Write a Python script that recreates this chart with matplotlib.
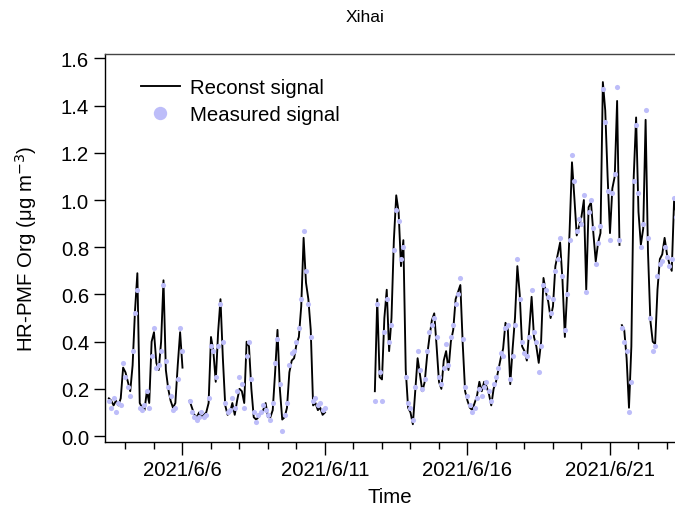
import numpy as np
import pandas as pd
import matplotlib
matplotlib.use('Agg')
import matplotlib.pyplot as plt
import matplotlib.dates as mdates
from matplotlib.ticker import MultipleLocator, FuncFormatter

plt.rcParams['font.family'] = ['Liberation Sans', 'DejaVu Sans']

##  data, 2-hourly (four continuous pieces)
seg1_start = '2021-06-03 10:00'
seg1_rec = [0.16, 0.15, 0.13, 0.15, 0.13, 0.16, 0.29, 0.27, 0.23, 0.19,
            0.30, 0.53, 0.69, 0.14, 0.12, 0.11, 0.19, 0.14, 0.40, 0.44,
            0.31, 0.28, 0.40, 0.66, 0.28, 0.20, 0.15, 0.12, 0.14, 0.30,
            0.44, 0.29]
seg1_meas = [0.15, 0.12, 0.16, 0.10, 0.14, 0.13, 0.31, 0.25, 0.21, 0.17,
             0.36, 0.52, 0.62, 0.12, 0.11, 0.13, 0.19, 0.12, 0.34, 0.46,
             0.29, 0.30, 0.36, 0.64, 0.32, 0.21, 0.17, 0.11, 0.12, 0.24,
             0.46, 0.36]

seg2_start = '2021-06-06 06:00'
seg2_rec = [0.15, 0.12, 0.09, 0.08, 0.10, 0.08, 0.09, 0.10, 0.14, 0.42,
            0.36, 0.23, 0.44, 0.58, 0.33, 0.13, 0.09, 0.10, 0.14, 0.09,
            0.15, 0.20, 0.19, 0.14, 0.40, 0.38, 0.20, 0.08, 0.07, 0.08,
            0.10, 0.11, 0.14, 0.08, 0.08, 0.11, 0.27, 0.45, 0.20, 0.07,
            0.08, 0.12, 0.27, 0.32, 0.33, 0.39, 0.42, 0.55, 0.84, 0.65,
            0.58, 0.45, 0.13, 0.14, 0.11, 0.12, 0.09, 0.10]
seg2_meas = [0.15, 0.10, 0.08, 0.07, 0.08, 0.10, 0.08, 0.09, 0.16, 0.38,
             0.36, 0.25, 0.38, 0.56, 0.40, 0.14, 0.10, 0.11, 0.16, 0.12,
             0.19, 0.25, 0.22, 0.12, 0.34, 0.40, 0.24, 0.10, 0.06, 0.09,
             0.10, 0.13, 0.11, 0.09, 0.07, 0.14, 0.31, 0.41, 0.22, 0.02,
             0.09, 0.14, 0.30, 0.35, 0.36, 0.40, 0.46, 0.58, 0.87, 0.70,
             0.56, 0.42, 0.15, 0.16, 0.13, 0.14, 0.11, 0.12]

seg3_start = '2021-06-12 18:00'
seg3_rec = [0.19, 0.58, 0.25, 0.24, 0.50, 0.62, 0.36, 0.50, 0.83, 1.02,
            0.95, 0.72, 0.83, 0.28, 0.12, 0.10, 0.05, 0.19, 0.33, 0.26,
            0.19, 0.23, 0.34, 0.42, 0.49, 0.52, 0.38, 0.23, 0.20, 0.32,
            0.36, 0.28, 0.40, 0.45, 0.58, 0.61, 0.64, 0.39, 0.19, 0.15,
            0.12, 0.11, 0.14, 0.17, 0.23, 0.19, 0.23, 0.21, 0.18, 0.13,
            0.20, 0.23, 0.28, 0.33, 0.37, 0.48, 0.45, 0.22, 0.37, 0.50,
            0.72, 0.60, 0.38, 0.36, 0.32, 0.45, 0.59, 0.42, 0.38, 0.31,
            0.40, 0.67, 0.61, 0.57, 0.50, 0.55, 0.72, 0.77, 0.82, 0.66,
            0.42, 0.62, 0.87, 1.16, 1.01, 0.85, 0.89, 0.93, 1.00, 0.62,
            0.97, 0.99, 0.86, 0.74, 0.82, 0.86, 1.50, 1.38, 1.10, 0.86,
            1.05, 1.10, 1.42, 0.81]
seg3_meas = [0.15, 0.56, 0.27, 0.15, 0.44, 0.58, 0.40, 0.47, 0.79, 0.96,
             0.91, 0.75, 0.80, 0.25, 0.14, 0.12, 0.07, 0.21, 0.36, 0.28,
             0.20, 0.24, 0.36, 0.44, 0.47, 0.50, 0.42, 0.25, 0.22, 0.29,
             0.39, 0.30, 0.42, 0.47, 0.56, 0.60, 0.67, 0.41, 0.21, 0.17,
             0.13, 0.10, 0.12, 0.16, 0.20, 0.17, 0.21, 0.23, 0.19, 0.15,
             0.22, 0.25, 0.29, 0.35, 0.34, 0.46, 0.47, 0.24, 0.34, 0.47,
             0.75, 0.58, 0.40, 0.35, 0.34, 0.42, 0.62, 0.44, 0.40, 0.27,
             0.38, 0.64, 0.62, 0.59, 0.52, 0.58, 0.70, 0.75, 0.84, 0.68,
             0.45, 0.60, 0.83, 1.19, 1.08, 0.87, 0.92, 0.90, 1.02, 0.61,
             0.95, 1.00, 0.88, 0.73, 0.82, 0.89, 1.47, 1.33, 1.04, 0.83,
             1.03, 1.11, 1.48, 0.83]

seg4_start = '2021-06-21 10:00'
seg4_rec = [0.47, 0.45, 0.33, 0.12, 0.38, 1.10, 1.35, 0.95, 0.81, 0.88,
            1.34, 0.78, 0.49, 0.40, 0.39, 0.62, 0.75, 0.77, 0.84, 0.77,
            0.73, 0.70, 1.00, 0.94]
seg4_meas = [0.46, 0.40, 0.36, 0.10, 0.23, 1.08, 1.32, 1.03, 0.80, 0.90,
             1.38, 0.84, 0.50, 0.36, 0.38, 0.68, 0.73, 0.74, 0.80, 0.76,
             0.72, 0.75, 1.01, 0.93]

segments = [(seg1_start, seg1_rec, seg1_meas),
            (seg2_start, seg2_rec, seg2_meas),
            (seg3_start, seg3_rec, seg3_meas),
            (seg4_start, seg4_rec, seg4_meas)]

# join pieces, NaN between them so the line breaks
t_all, rec_all, meas_all = [], [], []
for start, rec, meas in segments:
    t = pd.date_range(start, periods=len(rec), freq='2h')
    t_all += list(t) + [t[-1] + pd.Timedelta(hours=1)]
    rec_all += list(rec) + [np.nan]
    meas_all += list(meas) + [np.nan]
t_all = pd.to_datetime(t_all)
rec_all = np.array(rec_all)
meas_all = np.array(meas_all)

##  plot
fs = 14.7
fig = plt.figure(figsize=(6.75, 5.1), dpi=100)
ax = fig.add_axes([105/675, 1 - 442.5/510, 570/675, 388/510])

ax.plot(t_all, rec_all, '-', color='black', linewidth=1.35, label='Reconst signal', zorder=2)
ax.plot(t_all, meas_all, 'o', color='#BDBDF9', markeredgecolor='none', markersize=3.7,
        label='Measured signal', zorder=3)

ax.set_xlim(pd.Timestamp('2021-06-03 06:45'), pd.Timestamp('2021-06-23 06:45'))
ax.set_ylim(-0.023, 1.621)

ax.yaxis.set_major_locator(MultipleLocator(0.2))
ax.yaxis.set_major_formatter(FuncFormatter(lambda v, p: '%.1f' % v))
ax.xaxis.set_major_locator(mdates.DayLocator(bymonthday=[6, 11, 16, 21]))
ax.xaxis.set_minor_locator(mdates.DayLocator())
ax.xaxis.set_major_formatter(FuncFormatter(
    lambda v, p: '%d/%d/%d' % (mdates.num2date(v).year, mdates.num2date(v).month, mdates.num2date(v).day)))

ax.tick_params(axis='y', which='major', direction='out', length=8, width=1.0,
               labelsize=fs, pad=3.5)
ax.tick_params(axis='x', which='major', direction='out', length=9, width=1.0,
               labelsize=fs, pad=4)
ax.tick_params(axis='x', which='minor', direction='out', length=5, width=1.0)
ax.spines['right'].set_visible(False)
for s in ['left', 'bottom', 'top']:
    ax.spines[s].set_linewidth(1.0)
ax.spines['top'].set_color('#444444')

ax.set_xlabel('Time', fontsize=fs)
ax.xaxis.set_label_coords(0.5, -0.118)
ax.set_ylabel('HR-PMF Org (μg m$^{-3}$)', fontsize=fs)
ax.yaxis.set_label_coords(-0.115, 0.5)

fig.text(365/675, 1 - 18/510, 'Xihai', ha='center', va='center', fontsize=12.5)

ax.legend(loc='upper left', bbox_to_anchor=(0.045, 0.962), frameon=False, fontsize=fs,
          borderpad=0, handlelength=1.9, handletextpad=0.52, labelspacing=0.36,
          markerscale=2.6)

plt.savefig('out.png', dpi=100)
